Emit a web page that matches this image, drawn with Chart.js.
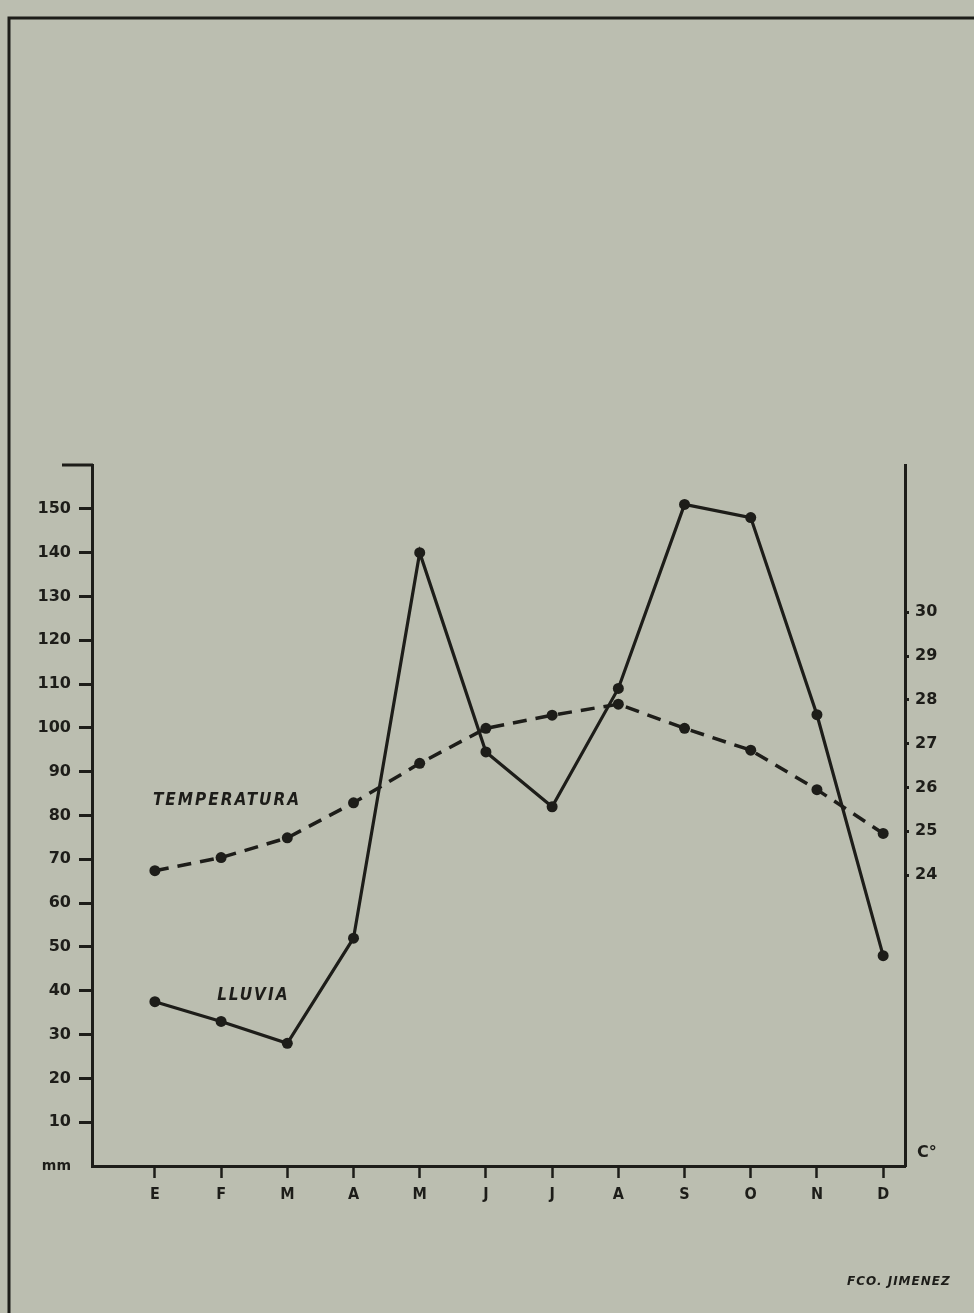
<!DOCTYPE html>
<html><head><meta charset="utf-8">
<script src="https://cdn.jsdelivr.net/npm/chart.js@4/dist/chart.umd.min.js"></script>
<style>
html,body{margin:0;padding:0;background:#bbbeb0;}
#wrap{width:974px;height:1313px;position:relative;}
canvas{display:block;}
</style></head><body>
<div id="wrap"><canvas id="c" width="974" height="1313"></canvas></div>
<script>
// ---- data ----
const months = ['E','F','M','A','M','J','J','A','S','O','N','D'];
const lluvia = [37.5, 33, 28, 52, 140, 94.5, 82, 109, 151, 148, 103, 48];           // mm
const temperatura = [24.1, 24.4, 24.85, 25.65, 26.55, 27.35, 27.65, 27.9, 27.35, 26.85, 25.95, 24.95]; // °C
const mmTicks = [0,10,20,30,40,50,60,70,80,90,100,110,120,130,140,150,160];
const tempTicks = [24,25,26,27,28,29,30];
const seriesLabels = ['LLUVIA','TEMPERATURA'];
const axisUnits = ['mm','C°'];
const author = 'FCO. JIMENEZ';

const ink = '#1d1d19';
const fontMain = '"DejaVu Sans", "Liberation Sans", sans-serif';
const fontCond = '"DejaVu Sans Condensed", "DejaVu Sans", sans-serif';

const decor = {
  id: 'decor',
  afterDraw(chart) {
    const ctx = chart.ctx, ca = chart.chartArea;
    const xs = chart.scales.x, ys = chart.scales.y;
    ctx.save();
    ctx.strokeStyle = ink; ctx.fillStyle = ink; ctx.lineCap = 'butt';
    // page frame
    ctx.lineWidth = 3;
    ctx.beginPath(); ctx.moveTo(9, 1313); ctx.lineTo(9, 18); ctx.lineTo(974, 18); ctx.stroke();
    // cap at top of left axis
    const yTop = ys.getPixelForValue(mmTicks[mmTicks.length-1]);
    ctx.beginPath(); ctx.moveTo(62, yTop); ctx.lineTo(ca.left + 1, yTop); ctx.stroke();
    // right unit label
    ctx.font = 'bold 16px ' + fontMain;
    ctx.textAlign = 'left'; ctx.textBaseline = 'middle';
    ctx.fillText(axisUnits[1], ca.right + 12, ca.bottom - 13);
    // series labels
    ctx.font = 'italic bold 17px ' + fontCond;
    ctx.letterSpacing = '2px';
    ctx.fillText(seriesLabels[1], xs.getPixelForValue(-0.03), ys.getPixelForValue(83.5));
    ctx.fillText(seriesLabels[0], xs.getPixelForValue(0.94), ys.getPixelForValue(39));
    // author
    ctx.font = 'italic bold 12px ' + fontMain;
    ctx.letterSpacing = '1px';
    ctx.fillText(author, 847, 1282);
    ctx.restore();
  }
};

const ptsL = lluvia.map((v, i) => ({x: i, y: v}));
const ptsT = temperatura.map((v, i) => ({x: i, y: v}));

new Chart(document.getElementById('c'), {
  type: 'line',
  data: {
    datasets: [
      { label: seriesLabels[0], data: ptsL, yAxisID: 'y', borderColor: ink, borderWidth: 3.2,
        pointRadius: 5.5, pointBackgroundColor: ink, pointBorderWidth: 0, tension: 0, fill: false },
      { label: seriesLabels[1], data: ptsT, yAxisID: 'y2', borderColor: ink, borderWidth: 3.5,
        borderDash: [14, 9], pointRadius: 5.5, pointBackgroundColor: ink, pointBorderWidth: 0, tension: 0, fill: false }
    ]
  },
  options: {
    responsive: false, animation: false, devicePixelRatio: 1,
    layout: { padding: { top: 465, left: 0, right: 0, bottom: 0 } },
    plugins: { legend: { display: false }, tooltip: { enabled: false } },
    scales: {
      x: {
        type: 'linear', min: -0.95, max: 11.33,
        afterBuildTicks: s => { s.ticks = months.map((m, i) => ({ value: i })); },
        afterFit: s => { s.height = 147; },
        border: { display: true, color: ink, width: 3 },
        grid: { drawOnChartArea: false, drawTicks: true, tickLength: 12, tickWidth: 2.5, tickColor: ink },
        ticks: { autoSkip: false, maxRotation: 0, padding: 7, color: ink,
          font: { family: fontCond, weight: 'bold', size: 16 },
          callback: v => months[v] }
      },
      y: {
        type: 'linear', position: 'left', min: 0, max: 160,
        afterBuildTicks: s => { s.ticks = mmTicks.map(v => ({ value: v })); },
        afterFit: s => { s.width = 92; },
        border: { display: true, color: ink, width: 3 },
        grid: { drawOnChartArea: false, drawTicks: true, tickLength: 13, tickWidth: 3,
          tickColor: c => (c.tick && (c.tick.value === 0 || c.tick.value === 160)) ? 'rgba(0,0,0,0)' : ink },
        ticks: { padding: 8, color: ink, autoSkip: false,
          font: c => (c.tick && c.tick.value === 0) ? { family: fontMain, weight: 'bold', size: 14 } : { family: fontMain, weight: 'bold', size: 16 },
          callback: v => v === 0 ? axisUnits[0] : (v === 160 ? '' : String(v)) }
      },
      y2: {
        type: 'linear', position: 'right', min: 17.36, max: 33.36,
        afterBuildTicks: s => { s.ticks = tempTicks.map(v => ({ value: v })); },
        afterFit: s => { s.width = 69; },
        border: { display: true, color: ink, width: 3 },
        grid: { drawOnChartArea: false, drawTicks: true, tickLength: 4, tickWidth: 3, tickColor: ink },
        ticks: { padding: 6, color: ink, autoSkip: false,
          font: { family: fontMain, weight: 'bold', size: 16 },
          callback: v => String(v) }
      }
    }
  },
  plugins: [decor]
});
</script>
</body></html>
